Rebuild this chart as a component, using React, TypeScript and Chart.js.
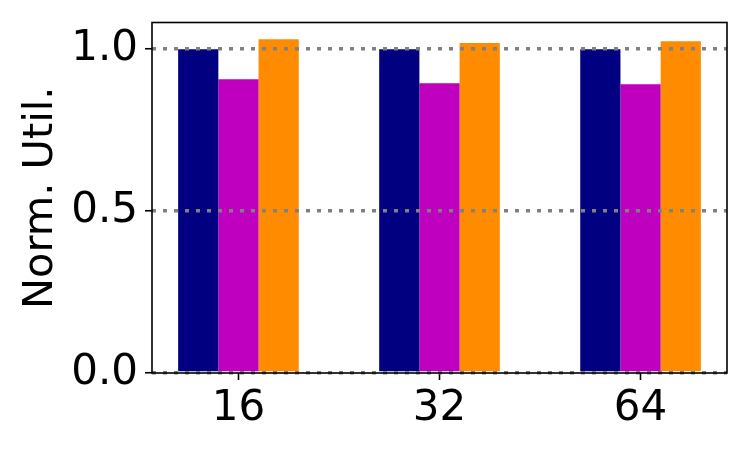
import React, { useEffect, useRef } from "react";
import { Chart, registerables } from "chart.js";

Chart.register(...registerables);

const categories = ["16", "32", "64"];
const seriesA = [1.0, 1.0, 1.0];
const seriesB = [0.907, 0.895, 0.892];
const seriesC = [1.031, 1.019, 1.025];
const yTicks = [0, 0.5, 1.0];

const FONT = "'DejaVu Sans', sans-serif";

const framePlugin = {
  id: "frame",
  afterDraw(chart: any) {
    const { ctx, chartArea } = chart;
    ctx.save();
    ctx.strokeStyle = "#000";
    ctx.lineWidth = 1.6;
    ctx.strokeRect(chartArea.left, chartArea.top, chartArea.right - chartArea.left, chartArea.bottom - chartArea.top);
    ctx.restore();
  },
};

export default function App() {
  const ref = useRef<HTMLCanvasElement>(null);
  useEffect(() => {
    if (!ref.current) return;
    const mk = (vals: number[]) => vals.map((v, i) => ({ x: i, y: v }));
    const chart = new Chart(ref.current, {
      type: "bar",
      data: {
        datasets: [
          { label: "A", data: mk(seriesA), backgroundColor: "#000080" },
          { label: "B", data: mk(seriesB), backgroundColor: "#BF00BF" },
          { label: "C", data: mk(seriesC), backgroundColor: "#FF8C00" },
        ],
      },
      options: {
        animation: false,
        responsive: true,
        maintainAspectRatio: false,
        layout: { padding: { left: 0, top: 22.5, right: 23, bottom: 0 } },
        datasets: { bar: { categoryPercentage: 0.6, barPercentage: 1.0 } } as any,
        plugins: { legend: { display: false }, tooltip: { enabled: false } },
        scales: {
          x: {
            type: "linear",
            min: -0.43,
            max: 2.43,
            offset: false,
            afterBuildTicks: (s: any) => {
              s.ticks = categories.map((_, i) => ({ value: i }));
            },
            afterFit: (s: any) => {
              s.height = 78;
            },
            grid: {
              offset: false,
              drawOnChartArea: false,
              drawTicks: true,
              tickLength: 7,
              tickColor: "#000",
              tickWidth: 1.6,
            } as any,
            border: { display: false },
            ticks: {
              color: "#000",
              font: { family: FONT, size: 42 },
              padding: 4,
              maxRotation: 0,
              callback: (v: any) => categories[Number(v)] ?? "",
            },
          },
          y: {
            type: "linear",
            min: 0,
            max: 1.0826,
            afterBuildTicks: (s: any) => {
              s.ticks = yTicks.map((v) => ({ value: v }));
            },
            afterFit: (s: any) => {
              s.width = 152;
            },
            grid: {
              z: 1,
              color: "#808080",
              lineWidth: 3.5,
              drawTicks: true,
              tickLength: 7,
              tickColor: "#000",
              tickWidth: 1.6,
              tickBorderDash: [],
            } as any,
            border: { display: false, dash: [4, 7], dashOffset: 0 } as any,
            ticks: {
              color: "#000",
              font: { family: FONT, size: 42, lineHeight: 0.6 },
              padding: 7,
              callback: (v: any) => Number(v).toFixed(1),
            },
            title: {
              display: true,
              text: "Norm. Util.",
              color: "#000",
              font: { family: FONT, size: 41.5 },
              padding: { top: 16, bottom: 0 },
            },
          },
        },
      },
      plugins: [framePlugin],
    });
    return () => chart.destroy();
  }, []);
  return (
    <div style={{ position: "fixed", left: 0, top: 0, width: 750, height: 451, background: "#fff" }}>
      <canvas ref={ref} />
    </div>
  );
}
